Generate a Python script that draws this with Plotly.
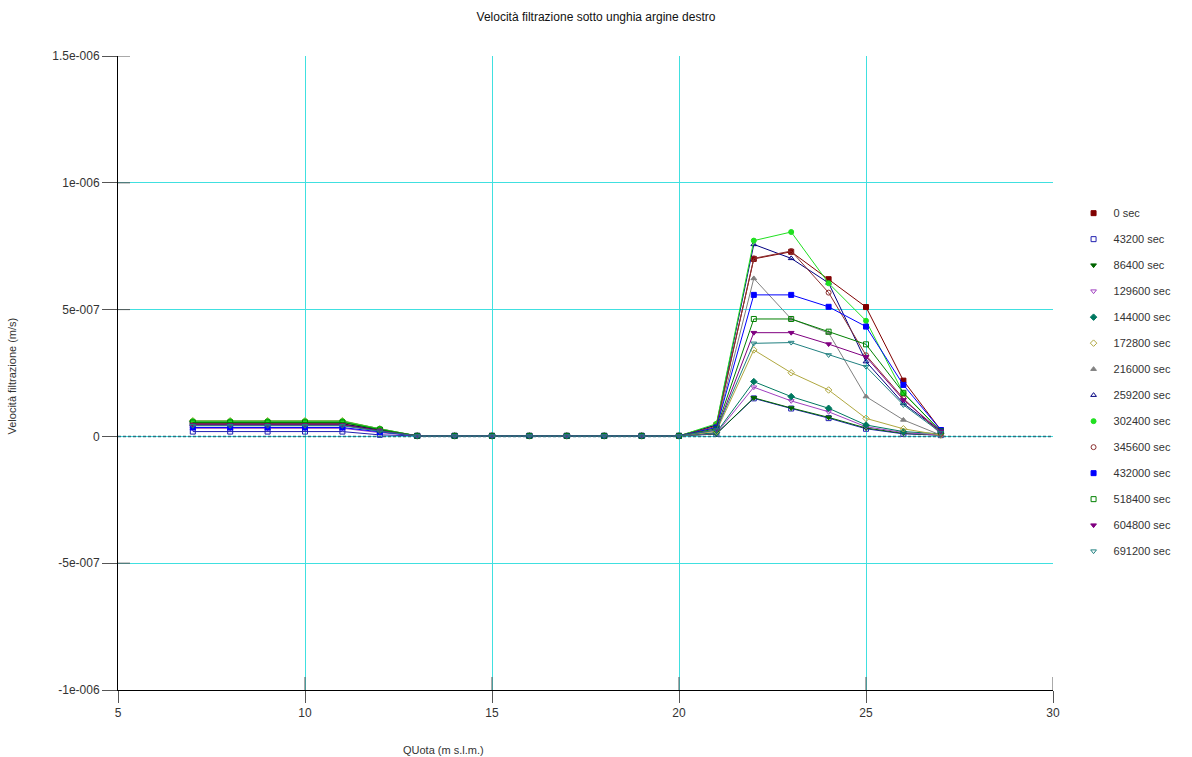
import plotly.graph_objects as go

# Quota (m s.l.m.)
quota = [7, 8, 9, 10, 11, 12, 13, 14, 15, 16, 17, 18, 19, 20, 21, 22, 23, 24, 25, 26, 27]

series_names = ["0 sec", "43200 sec", "86400 sec", "129600 sec", "144000 sec", "172800 sec",
                "216000 sec", "259200 sec", "302400 sec", "345600 sec", "432000 sec",
                "518400 sec", "604800 sec", "691200 sec"]

v_0 = [0.50e-7, 0.50e-7, 0.50e-7, 0.50e-7, 0.50e-7, 0.25e-7, 0.02e-7, 0.02e-7, 0.02e-7, 0.02e-7, 0.02e-7, 0.02e-7, 0.02e-7, 0.02e-7, 0.45e-7, 7.00e-7, 7.28e-7, 6.20e-7, 5.10e-7, 2.20e-7, 0.25e-7]
v_43200 = [0.19e-7, 0.19e-7, 0.19e-7, 0.19e-7, 0.19e-7, 0.06e-7, 0.02e-7, 0.02e-7, 0.02e-7, 0.02e-7, 0.02e-7, 0.02e-7, 0.02e-7, 0.02e-7, 0.10e-7, 1.50e-7, 1.10e-7, 0.72e-7, 0.30e-7, 0.10e-7, 0.05e-7]
v_86400 = [0.56e-7, 0.56e-7, 0.56e-7, 0.56e-7, 0.56e-7, 0.28e-7, 0.02e-7, 0.02e-7, 0.02e-7, 0.02e-7, 0.02e-7, 0.02e-7, 0.02e-7, 0.02e-7, 0.10e-7, 1.52e-7, 1.12e-7, 0.75e-7, 0.33e-7, 0.12e-7, 0.05e-7]
v_129600 = [0.32e-7, 0.32e-7, 0.32e-7, 0.32e-7, 0.32e-7, 0.15e-7, 0.02e-7, 0.02e-7, 0.02e-7, 0.02e-7, 0.02e-7, 0.02e-7, 0.02e-7, 0.02e-7, 0.12e-7, 1.94e-7, 1.40e-7, 0.97e-7, 0.38e-7, 0.15e-7, 0.05e-7]
v_144000 = [0.58e-7, 0.58e-7, 0.58e-7, 0.58e-7, 0.58e-7, 0.28e-7, 0.02e-7, 0.02e-7, 0.02e-7, 0.02e-7, 0.02e-7, 0.02e-7, 0.02e-7, 0.02e-7, 0.15e-7, 2.16e-7, 1.57e-7, 1.11e-7, 0.45e-7, 0.19e-7, 0.10e-7]
v_172800 = [0.62e-7, 0.62e-7, 0.62e-7, 0.62e-7, 0.62e-7, 0.30e-7, 0.02e-7, 0.02e-7, 0.02e-7, 0.02e-7, 0.02e-7, 0.02e-7, 0.02e-7, 0.02e-7, 0.20e-7, 3.41e-7, 2.51e-7, 1.83e-7, 0.71e-7, 0.30e-7, 0.05e-7]
v_216000 = [0.60e-7, 0.60e-7, 0.60e-7, 0.60e-7, 0.60e-7, 0.30e-7, 0.02e-7, 0.02e-7, 0.02e-7, 0.02e-7, 0.02e-7, 0.02e-7, 0.02e-7, 0.02e-7, 0.35e-7, 6.23e-7, 4.63e-7, 4.08e-7, 1.57e-7, 0.65e-7, 0.05e-7]
v_259200 = [0.48e-7, 0.48e-7, 0.48e-7, 0.48e-7, 0.48e-7, 0.25e-7, 0.02e-7, 0.02e-7, 0.02e-7, 0.02e-7, 0.02e-7, 0.02e-7, 0.02e-7, 0.02e-7, 0.45e-7, 7.57e-7, 7.02e-7, 6.05e-7, 2.95e-7, 1.30e-7, 0.20e-7]
v_302400 = [0.60e-7, 0.60e-7, 0.60e-7, 0.60e-7, 0.60e-7, 0.30e-7, 0.02e-7, 0.02e-7, 0.02e-7, 0.02e-7, 0.02e-7, 0.02e-7, 0.02e-7, 0.02e-7, 0.50e-7, 7.72e-7, 8.06e-7, 6.04e-7, 4.56e-7, 1.70e-7, 0.20e-7]
v_345600 = [0.45e-7, 0.45e-7, 0.45e-7, 0.45e-7, 0.45e-7, 0.22e-7, 0.02e-7, 0.02e-7, 0.02e-7, 0.02e-7, 0.02e-7, 0.02e-7, 0.02e-7, 0.02e-7, 0.40e-7, 7.02e-7, 7.31e-7, 5.67e-7, 3.20e-7, 1.50e-7, 0.10e-7]
v_432000 = [0.35e-7, 0.35e-7, 0.35e-7, 0.35e-7, 0.35e-7, 0.18e-7, 0.02e-7, 0.02e-7, 0.02e-7, 0.02e-7, 0.02e-7, 0.02e-7, 0.02e-7, 0.02e-7, 0.35e-7, 5.58e-7, 5.58e-7, 5.11e-7, 4.33e-7, 2.03e-7, 0.25e-7]
v_518400 = [0.55e-7, 0.55e-7, 0.55e-7, 0.55e-7, 0.55e-7, 0.27e-7, 0.02e-7, 0.02e-7, 0.02e-7, 0.02e-7, 0.02e-7, 0.02e-7, 0.02e-7, 0.02e-7, 0.30e-7, 4.63e-7, 4.63e-7, 4.13e-7, 3.63e-7, 1.72e-7, 0.20e-7]
v_604800 = [0.45e-7, 0.45e-7, 0.45e-7, 0.45e-7, 0.45e-7, 0.22e-7, 0.02e-7, 0.02e-7, 0.02e-7, 0.02e-7, 0.02e-7, 0.02e-7, 0.02e-7, 0.02e-7, 0.25e-7, 4.09e-7, 4.09e-7, 3.64e-7, 3.14e-7, 1.44e-7, 0.20e-7]
v_691200 = [0.42e-7, 0.42e-7, 0.42e-7, 0.42e-7, 0.42e-7, 0.20e-7, 0.02e-7, 0.02e-7, 0.02e-7, 0.02e-7, 0.02e-7, 0.02e-7, 0.02e-7, 0.02e-7, 0.25e-7, 3.67e-7, 3.70e-7, 3.21e-7, 2.75e-7, 1.24e-7, 0.15e-7]

series_values = [v_0, v_43200, v_86400, v_129600, v_144000, v_172800, v_216000,
                 v_259200, v_302400, v_345600, v_432000, v_518400, v_604800, v_691200]

colors = ["#800000", "#2020b0", "#006400", "#a040c0", "#007860", "#b0a840", "#808080",
          "#000080", "#20e020", "#8b3030", "#0000ff", "#008000", "#800080", "#208080"]
symbols = ["square", "square-open", "triangle-down", "triangle-down-open", "diamond",
           "diamond-open", "triangle-up", "triangle-up-open", "circle", "circle-open",
           "square", "square-open", "triangle-down", "triangle-down-open"]

y_tickvals = [1.5e-6, 1e-6, 5e-7, 0, -5e-7, -1e-6]
y_ticktext = ["1.5e-006", "1e-006", "5e-007", "0", "-5e-007", "-1e-006"]
x_tickvals = [5, 10, 15, 20, 25, 30]

FONT = "Liberation Sans, Arial, sans-serif"
GRID = "#40e0e0"
TICKC = "#555555"

fig = go.Figure()
for name, vals, col, sym in zip(series_names, series_values, colors, symbols):
    fig.add_trace(go.Scatter(
        x=quota, y=vals, mode="lines+markers", name=name,
        line=dict(color=col, width=1),
        marker=dict(symbol=sym, size=5, color=col, line=dict(color=col, width=1)),
        showlegend=False, legendgroup=name, hoverinfo="skip"))
# legend-only entries (markers only, like the original legend)
for name, col, sym in zip(series_names, colors, symbols):
    fig.add_trace(go.Scatter(
        x=[None], y=[None], mode="markers", name=name, legendgroup=name,
        marker=dict(symbol=sym, size=5, color=col, line=dict(color=col, width=1)),
        showlegend=True))

# dashed zero line
fig.add_shape(type="line", xref="paper", yref="y", x0=0, x1=1, y0=0, y1=0,
              line=dict(color="#2f6f80", width=1.5, dash="3px,2px"), layer="above")

# grey inner part of the ticks (ticks cross the axis in the original)
inner_x = 13 / 634
inner_y = 12 / 935
for xv in x_tickvals[1:]:
    fig.add_shape(type="line", xref="x", yref="paper", x0=xv, x1=xv, y0=0, y1=inner_x,
                  line=dict(color=TICKC, width=1), layer="above")
for yv in y_tickvals[:-1]:
    if yv == 0:
        continue
    fig.add_shape(type="line", xref="paper", yref="y", x0=0, x1=inner_y, y0=yv, y1=yv,
                  line=dict(color=TICKC, width=1), layer="above")

fig.update_layout(
    width=1192, height=757,
    margin=dict(l=118, r=139, t=56, b=67),
    paper_bgcolor="white", plot_bgcolor="white",
    font=dict(family=FONT, size=11, color="#333333"),
    title=dict(text="Velocità filtrazione sotto unghia argine destro", x=0.5, xanchor="center",
               y=0.978, yanchor="middle", font=dict(family=FONT, size=12, color="#111111")),
    xaxis=dict(range=[5, 30], tickvals=x_tickvals, showgrid=True, gridcolor=GRID, gridwidth=1,
               showline=True, linecolor="#000000", linewidth=1, zeroline=False,
               ticks="outside", ticklen=12, tickcolor=TICKC,
               tickfont=dict(size=12, color="#333333")),
    yaxis=dict(range=[-1e-6, 1.5e-6], tickvals=y_tickvals, ticktext=y_ticktext, showgrid=True,
               gridcolor=GRID, gridwidth=1, showline=True, linecolor="#000000", linewidth=1,
               zeroline=False, ticks="outside", ticklen=15, tickcolor=TICKC,
               tickfont=dict(size=12, color="#333333")),
    legend=dict(x=1.022, xanchor="left", y=0.775, yanchor="top", tracegroupgap=7,
                font=dict(size=11, color="#333333"), bgcolor="rgba(0,0,0,0)"),
    annotations=[
        dict(text="QUota (m s.l.m.)", xref="paper", yref="paper", x=(443 - 118) / 935, y=-0.095,
             xanchor="center", yanchor="middle", showarrow=False,
             font=dict(family=FONT, size=11, color="#333333")),
        dict(text="Velocità filtrazione (m/s)", xref="paper", yref="paper", x=-0.113, y=0.495,
             xanchor="center", yanchor="middle", showarrow=False, textangle=-90,
             font=dict(family=FONT, size=11, color="#333333")),
    ],
)

fig.write_html("out.html")
